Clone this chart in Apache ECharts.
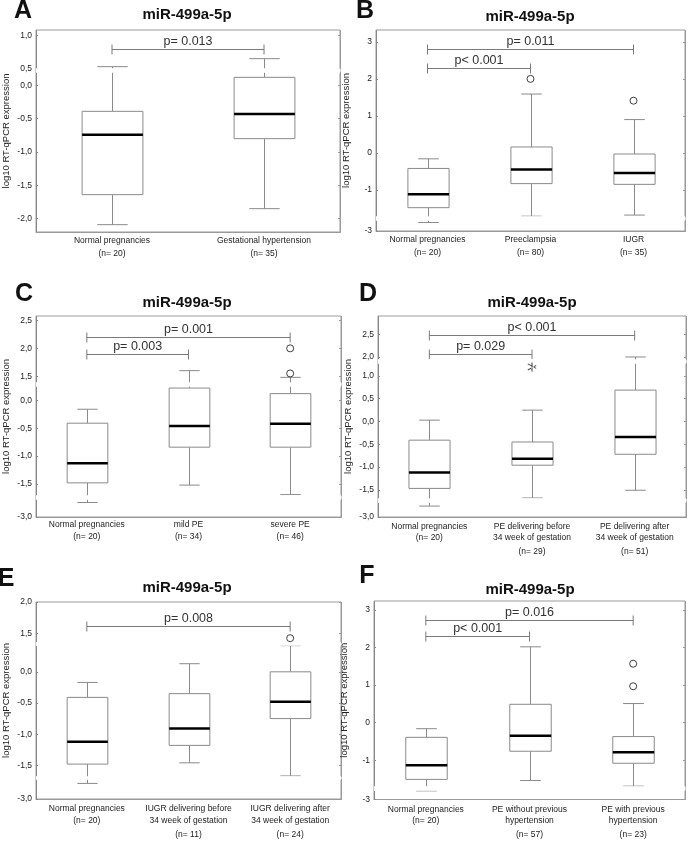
<!DOCTYPE html>
<html><head><meta charset="utf-8">
<script src="https://cdn.jsdelivr.net/npm/echarts@6/dist/echarts.min.js"></script>
<style>html,body{margin:0;padding:0;background:#fff}#c{width:688px;height:843px}</style>
</head><body><div id="c"></div>
<script>
// ---------- DATA ----------
// Panel A
const catsA = ['Normal pregnancies', 'Gestational hypertension'];
const nA = [20, 35];
const boxA = [[-2.09, -1.64, -0.74, -0.39, 0.53], [-1.85, -0.80, -0.43, 0.12, 0.65]];
const outA = [];
const bracketsA = [[0, 1, 0.80, 'p= 0.013']];
const ticksA = [-2.0, -1.5, -1.0, -0.5, 0.0, 0.5, 1.0];
const breaksA = [[0.2, 0.5]];
const rangeA = [-2.2, 1.08];
// Panel B
const catsB = ['Normal pregnancies', 'Preeclampsia', 'IUGR'];
const nB = [20, 80, 35];
const boxB = [[-2.77, -1.48, -1.12, -0.42, -0.16], [-1.71, -0.83, -0.45, 0.16, 1.59], [-1.68, -0.85, -0.54, -0.03, 0.90]];
const outB = [[1, 2.0], [2, 1.41]];
const bracketsB = [[0, 2, 2.80, 'p= 0.011'], [0, 1, 2.30, 'p< 0.001']];
const ticksB = [-3, -1, 0, 1, 2, 3];
const breaksB = [[-2.72, -1.72]];
const rangeB = [-3, 3.32];
// Panel C
const catsC = ['Normal pregnancies', 'mild PE', 'severe PE'];
const nC = [20, 34, 46];
const boxC = [[-2.74, -1.48, -1.13, -0.41, -0.16], [-1.52, -0.84, -0.46, 0.22, 1.60], [-1.69, -0.84, -0.42, 0.12, 1.48]];
const outC = [[2, 2.0], [2, 1.55]];
const bracketsC = [[0, 2, 2.21, 'p= 0.001'], [0, 1, 1.90, 'p= 0.003']];
const ticksC = [-3.0, -1.5, -1.0, -0.5, 0.0, 1.5, 2.0, 2.5];
const breaksC = [[-2.68, -1.70], [0.26, 1.40]];
const rangeC = [-3, 2.58];
// Panel D
const catsD = ['Normal pregnancies', 'PE delivering before\n34 week of gestation', 'PE delivering after\n34 week of gestation'];
const nD = [20, 29, 51];
const boxD = [[-2.76, -1.47, -1.12, -0.41, 0.03], [-1.68, -0.96, -0.82, -0.45, 0.25], [-1.51, -0.72, -0.34, 0.69, 2.0]];
const outD = [];
const starD = [[1, 1.2]];
const bracketsD = [[0, 2, 2.48, 'p< 0.001'], [0, 1, 2.06, 'p= 0.029']];
const ticksD = [-3.0, -1.5, -1.0, -0.5, 0.0, 0.5, 1.0, 2.0, 2.5];
const breaksD = [[-2.68, -1.69], [1.27, 1.94]];
const rangeD = [-3, 2.9];
// Panel E
const catsE = ['Normal pregnancies', 'IUGR delivering before\n34 week of gestation', 'IUGR delivering after\n34 week of gestation'];
const nE = [20, 11, 24];
const boxE = [[-2.75, -1.48, -1.12, -0.41, -0.17], [-1.46, -1.18, -0.91, -0.35, 0.13], [-1.67, -0.75, -0.48, 0.0, 0.42]];
const outE = [[2, 1.42]];
const bracketsE = [[0, 2, 1.62, 'p= 0.008']];
const ticksE = [-3.0, -1.5, -1.0, -0.5, 0.0, 1.5, 2.0];
const breaksE = [[-2.69, -1.68], [0.43, 1.36]];
const rangeE = [-3, 2.0];
// Panel F
const catsF = ['Normal pregnancies', 'PE without previous\nhypertension', 'PE with previous\nhypertension'];
const nF = [20, 57, 23];
const boxF = [[-2.77, -1.51, -1.13, -0.39, -0.16], [-1.54, -0.76, -0.35, 0.49, 2.02], [-1.69, -1.08, -0.79, -0.37, 0.51]];
const outF = [[2, 1.57], [2, 0.97]];
const bracketsF = [[0, 2, 2.73, 'p= 0.016'], [0, 1, 2.30, 'p< 0.001']];
const ticksF = [-3, -1, 0, 1, 2, 3];
const breaksF = [[-2.76, -1.70]];
const rangeF = [-3, 3.24];

const TITLE = 'miR-499a-5p';
const YNAME = 'log10 RT-qPCR expression';

// ---------- LAYOUT ----------
const FONT = 'Liberation Sans, Arial, sans-serif';
const panels = [
  {letter: 'A', cats: catsA, n: nA, box: boxA, out: outA, star: [], br: bracketsA, ticks: ticksA, breaks: breaksA, range: rangeA, comma: true,
   grid: {left: 34, top: 30, width: 306, height: 202}, gap: 0.05, lh: 13.3, lh3: 13.3, margin: 2, lt: [23, -1], tt: [187, 7.5]},
  {letter: 'B', cats: catsB, n: nB, box: boxB, out: outB, star: [], br: bracketsB, ticks: ticksB, breaks: breaksB, range: rangeB, comma: false,
   grid: {left: 376, top: 30, width: 309, height: 201}, gap: 0.11, lh: 13.3, lh3: 13.3, margin: 2, lt: [365, -1], tt: [530, 9]},
  {letter: 'C', cats: catsC, n: nC, box: boxC, out: outC, star: [], br: bracketsC, ticks: ticksC, breaks: breaksC, range: rangeC, comma: true,
   grid: {left: 33, top: 316, width: 308, height: 201}, gap: 0.072, lh: 12.7, lh3: 12.7, margin: 1, lt: [24, 282], tt: [187, 295.5]},
  {letter: 'D', cats: catsD, n: nD, box: boxD, out: outD, star: starD, br: bracketsD, ticks: ticksD, breaks: breaksD, range: rangeD, comma: true,
   grid: {left: 378, top: 316, width: 308, height: 201}, gap: 0.088, lh: 11, lh3: 17, margin: 4.5, lt: [368, 282], tt: [532, 295.5]},
  {letter: 'E', cats: catsE, n: nE, box: boxE, out: outE, star: [], br: bracketsE, ticks: ticksE, breaks: breaksE, range: rangeE, comma: true,
   grid: {left: 34, top: 602, width: 307, height: 200}, gap: 0.05, lh: 11.5, lh3: 17, margin: 4, lt: [6, 567], tt: [187, 580.5]},
  {letter: 'F', cats: catsF, n: nF, box: boxF, out: outF, star: [], br: bracketsF, ticks: ticksF, breaks: breaksF, range: rangeF, comma: false,
   grid: {left: 374, top: 601, width: 311, height: 201}, gap: 0.105, lh: 11, lh3: 17, margin: 4.5, lt: [367, 564], tt: [530, 582.5]}
];

const GRAY = '#8a8a8a';

function renderBox(params, api) {
  const x = api.value(0);
  const lo = api.coord([x, api.value(1)]);
  const q1 = api.coord([x, api.value(2)]);
  const md = api.coord([x, api.value(3)]);
  const q3 = api.coord([x, api.value(4)]);
  const hi = api.coord([x, api.value(5)]);
  const bw = api.size([1, 0])[0] * 0.4;
  const cx = Math.round(lo[0]) + 0.5;
  const cap = bw / 4;
  const ws = {stroke: GRAY, lineWidth: 1};
  return {type: 'group', children: [
    {type: 'line', shape: {x1: cx, y1: q3[1], x2: cx, y2: hi[1]}, style: ws},
    {type: 'line', shape: {x1: cx, y1: q1[1], x2: cx, y2: lo[1]}, style: ws},
    {type: 'line', shape: {x1: cx - cap, y1: hi[1], x2: cx + cap, y2: hi[1]}, style: ws},
    {type: 'line', shape: {x1: cx - cap, y1: lo[1], x2: cx + cap, y2: lo[1]}, style: ws},
    {type: 'rect', shape: {x: cx - bw / 2, y: q3[1], width: bw, height: q1[1] - q3[1]}, style: {fill: '#fff', stroke: GRAY, lineWidth: 1}},
    {type: 'line', shape: {x1: cx - bw / 2, y1: md[1], x2: cx + bw / 2, y2: md[1]}, style: {stroke: '#000', lineWidth: 2.5}}
  ]};
}

function makeBracketRenderer(list) {
  return function (params, api) {
    const a = api.coord([api.value(0), api.value(2)]);
    const b = api.coord([api.value(1), api.value(2)]);
    const y = Math.round(a[1]) + 0.5;
    const s = {stroke: '#7a7a7a', lineWidth: 1};
    return {type: 'group', children: [
      {type: 'line', shape: {x1: a[0], y1: y, x2: b[0], y2: y}, style: s},
      {type: 'line', shape: {x1: a[0], y1: y - 5, x2: a[0], y2: y + 5}, style: s},
      {type: 'line', shape: {x1: b[0], y1: y - 5, x2: b[0], y2: y + 5}, style: s},
      {type: 'text', style: {text: list[params.dataIndex][3], x: (a[0] + b[0]) / 2, y: y - 1.5,
        align: 'center', verticalAlign: 'bottom', fontSize: 12.5, fontFamily: FONT, fill: '#333'}}
    ]};
  };
}

const ASTERISK = 'path://M4.4,0h1.2v10h-1.2z M0.3,2.1l0.6,-1l8.8,5.1l-0.6,1z M0.3,7.9l0.6,1l8.8,-5.1l-0.6,-1z';

const option = {
  animation: false,
  backgroundColor: '#fff',
  textStyle: {fontFamily: FONT},
  title: [], grid: [], xAxis: [], yAxis: [], series: []
};

panels.forEach((p, i) => {
  option.title.push({text: TITLE, left: p.tt[0], top: p.tt[1], textAlign: 'center', padding: 0,
    textStyle: {fontSize: 15, fontWeight: 'bold', color: '#111', fontFamily: FONT}});
  option.title.push({text: p.letter, left: p.lt[0], top: p.lt[1], textAlign: 'center', padding: 0,
    textStyle: {fontSize: 25, fontWeight: 'bold', color: '#111', fontFamily: FONT}});
  option.grid.push(Object.assign({show: true, borderColor: '#9a9a9a', borderWidth: 1, backgroundColor: 'transparent'}, p.grid));
  option.xAxis.push({
    type: 'category', gridIndex: i, data: p.cats,
    axisLine: {show: true, onZero: false, lineStyle: {color: '#9a9a9a'}},
    axisTick: {show: false},
    axisLabel: {
      interval: 0, margin: p.margin, fontSize: 8.5, color: '#222', lineHeight: p.lh,
      formatter: (v, idx) => v.indexOf('\n') >= 0 ? v + '\n{n3|(n= ' + p.n[idx] + ')}' : v + '\n{n|(n= ' + p.n[idx] + ')}',
      rich: {n: {fontSize: 8.5, color: '#222', lineHeight: p.lh}, n3: {fontSize: 8.5, color: '#222', lineHeight: p.lh3}}
    },
    splitLine: {show: false}
  });
  const yCommon = {
    type: 'value', gridIndex: i, min: p.range[0], max: p.range[1],
    breaks: p.breaks.map(b => ({start: b[0], end: b[1], gap: p.gap})),
    breakArea: {show: true, expandOnClick: false, zigzagAmplitude: 0, itemStyle: {color: '#fff', borderWidth: 0, opacity: 1}},
    splitLine: {show: false}
  };
  option.yAxis.push(Object.assign({}, yCommon, {
    position: 'left',
    axisLine: {show: true, onZero: false, lineStyle: {color: '#888', width: 1}},
    axisTick: {show: true, inside: true, length: 2, customValues: p.ticks, lineStyle: {color: '#888'}},
    axisLabel: {customValues: p.ticks, fontSize: 8.5, color: '#222', margin: 4,
      formatter: v => p.comma ? v.toFixed(1).replace('.', ',') : String(Math.round(v))},
    name: YNAME, nameLocation: 'middle', nameGap: 25,
    nameTextStyle: {fontSize: 9.5, color: '#222', fontFamily: FONT}
  }));
  option.yAxis.push(Object.assign({}, yCommon, {
    position: 'right',
    axisLine: {show: true, onZero: false, lineStyle: {color: '#9a9a9a', width: 1}},
    axisTick: {show: true, inside: true, length: 2, customValues: p.ticks, lineStyle: {color: '#999'}},
    axisLabel: {show: false}
  }));
  const yi = i * 2;
  option.series.push({
    type: 'custom', name: 'box' + p.letter, xAxisIndex: i, yAxisIndex: yi,
    renderItem: renderBox, encode: {x: 0, y: [1, 2, 3, 4, 5]},
    data: p.box.map((b, k) => [k].concat(b)), z: 2
  });
  if (p.out.length) option.series.push({
    type: 'scatter', name: 'outliers' + p.letter, xAxisIndex: i, yAxisIndex: yi,
    data: p.out, symbol: 'circle', symbolSize: 7,
    itemStyle: {color: '#fff', borderColor: '#111', borderWidth: 1}, z: 150
  });
  if (p.star.length) option.series.push({
    type: 'scatter', name: 'extremes' + p.letter, xAxisIndex: i, yAxisIndex: yi,
    data: p.star, symbol: ASTERISK, symbolSize: 9, itemStyle: {color: '#222'}, z: 150
  });
  option.series.push({
    type: 'custom', name: 'p' + p.letter, xAxisIndex: i, yAxisIndex: yi,
    renderItem: makeBracketRenderer(p.br), encode: {x: [0, 1], y: 2},
    data: p.br.map(b => [b[0], b[1], b[2]]), z: 4
  });
});

const chart = echarts.init(document.getElementById('c'), null, {renderer: 'canvas'});
chart.setOption(option);
</script></body></html>
